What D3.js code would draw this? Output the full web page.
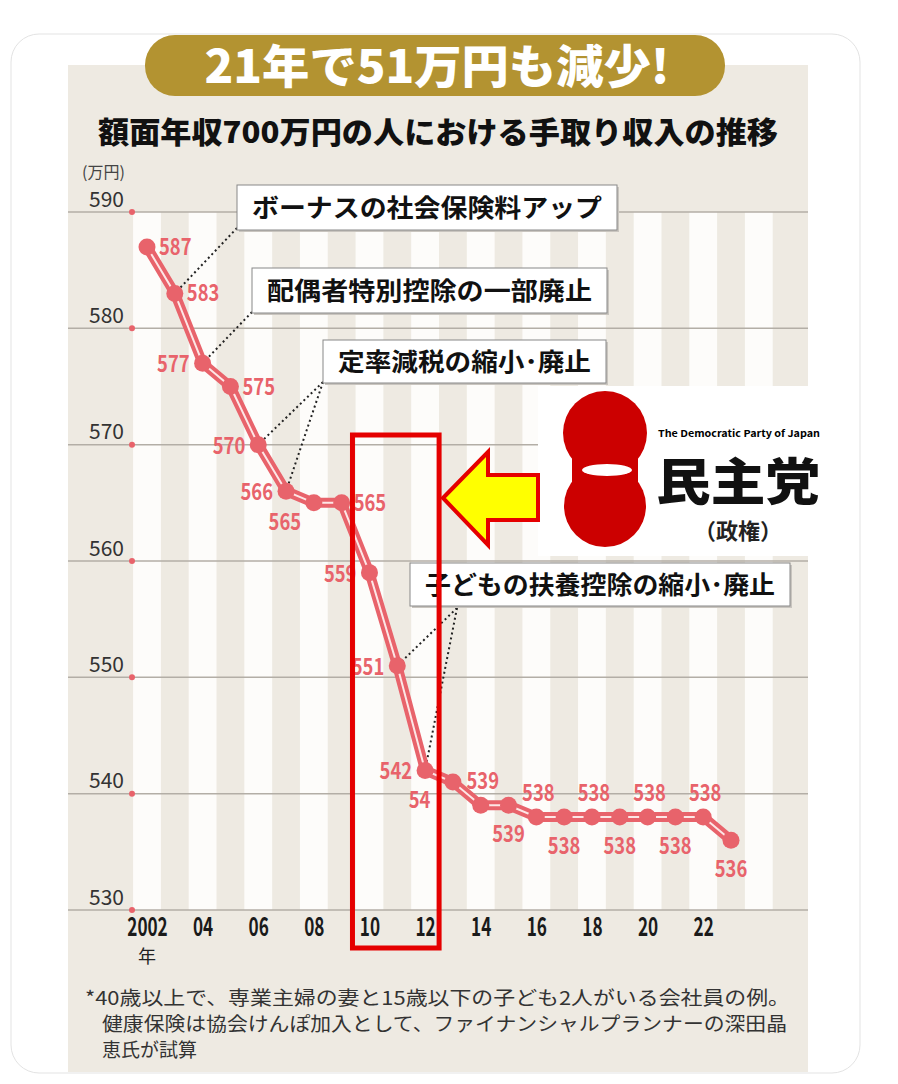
<!DOCTYPE html>
<html>
<head>
<meta charset="utf-8">
<script src="https://cdn.jsdelivr.net/npm/d3@7"></script>
<style>
  body { margin: 0; background: #fff; }
  svg { display: block; }
  text { font-family: "Noto Sans CJK JP", "Noto Sans", sans-serif; }
</style>
</head>
<body>
<div id="chart"></div>
<script>
const years = [2002, 2003, 2004, 2005, 2006, 2007, 2008, 2009, 2010, 2011, 2012,
               2013, 2014, 2015, 2016, 2017, 2018, 2019, 2020, 2021, 2022, 2023];
const income = [587, 583, 577, 575, 570, 566, 565, 565, 559, 551, 542,
                541, 539, 539, 538, 538, 538, 538, 538, 538, 538, 536];
const labelSide = ["right", "right", "left", "right", "left", "left", "belowLeft", "right", "left", "left", "left",
                   "hidden", "above", "below", "above", "below", "above", "below", "above", "below", "above", "below"];
const yTicks = [530, 540, 550, 560, 570, 580, 590];
const xTicks = [2002, 2004, 2006, 2008, 2010, 2012, 2014, 2016, 2018, 2020, 2022];
const xTickLabels = ["2002", "04", "06", "08", "10", "12", "14", "16", "18", "20", "22"];
const notes = [
  { text: "ボーナスの社会保険料アップ", years: [2003] },
  { text: "配偶者特別控除の一部廃止", years: [2004] },
  { text: "定率減税の縮小･廃止", years: [2006, 2007] },
  { text: "子どもの扶養控除の縮小･廃止", years: [2011, 2012] }
];
const highlight = [2010, 2012];
const footnote = [
  "*40歳以上で、専業主婦の妻と15歳以下の子ども2人がいる会社員の例。",
  "健康保険は協会けんぽ加入として、ファイナンシャルプランナーの深田晶",
  "恵氏が試算"
];

const data = years.map((yr, i) => ({ year: yr, value: income[i], side: labelSide[i] }));

const W = 898, H = 1084;
const red = "#e8636b";

const svg = d3.select("#chart").append("svg")
  .attr("width", W)
  .attr("height", H);

// card + panel
svg.append("rect")
  .attr("x", 11).attr("y", 34).attr("width", 849).attr("height", 1039)
  .attr("rx", 28)
  .attr("fill", "#fff").attr("stroke", "#e3e3e3");

svg.append("rect")
  .attr("x", 68).attr("y", 65).attr("width", 740).attr("height", 1007)
  .attr("fill", "#eeeae2");

const x = d3.scaleLinear().domain([2002, 2023]).range([147, 731]);
const y = d3.scaleLinear().domain([530, 590]).range([910, 212]);
const step = x(2003) - x(2002);

// white stripes on even years
svg.append("g").selectAll("rect")
  .data(d3.range(2002, 2025, 2))
  .enter().append("rect")
  .attr("x", d => x(d) - step / 2)
  .attr("y", y(590))
  .attr("width", step)
  .attr("height", y(530) - y(590))
  .attr("fill", "#fdfcfa");

// grid lines
svg.append("g").selectAll("line")
  .data(yTicks)
  .enter().append("line")
  .attr("x1", 68).attr("x2", 808)
  .attr("y1", d => y(d)).attr("y2", d => y(d))
  .attr("stroke", "#b3aea6").attr("stroke-width", 1.5);

svg.append("g").selectAll("circle")
  .data(yTicks)
  .enter().append("circle")
  .attr("cx", 132).attr("cy", d => y(d)).attr("r", 3)
  .attr("fill", red);

// Y axis
const yAxis = svg.append("g")
  .attr("transform", "translate(124,0)")
  .call(d3.axisLeft(y).tickValues(yTicks).tickSize(0).tickPadding(0));
yAxis.select(".domain").remove();
yAxis.selectAll("text")
  .attr("dy", -6)
  .attr("font-family", "'Noto Sans', sans-serif")
  .attr("font-size", 21)
  .attr("fill", "#333");

svg.append("text")
  .attr("x", 82).attr("y", 178)
  .attr("font-size", 16)
  .attr("fill", "#444")
  .text("(万円)");

// X axis
const xAxis = svg.append("g")
  .attr("transform", `translate(0,${y(530)})`)
  .call(d3.axisBottom(x).tickValues(xTicks).tickFormat((d, i) => xTickLabels[i]).tickSize(0).tickPadding(8));
xAxis.select(".domain").remove();
xAxis.selectAll("text")
  .attr("font-family", "'Liberation Sans', sans-serif")
  .attr("font-weight", "bold")
  .attr("font-size", 26)
  .attr("fill", "#1a1a1a")
  .attr("transform", "scale(0.66,1)");

svg.append("text")
  .attr("x", x(2002)).attr("y", 963)
  .attr("text-anchor", "middle")
  .attr("font-size", 18)
  .attr("fill", "#222")
  .text("年");

// leader lines
const boxes = [
  { x: 237, y: 185, w: 380, h: 45, ax: 237, ay: 228 },
  { x: 252, y: 268, w: 355, h: 45, ax: 252, ay: 312 },
  { x: 323, y: 340, w: 283, h: 43, ax: 323, ay: 382 },
  { x: 410, y: 563, w: 380, h: 43, ax: 457, ay: 608 }
];

notes.forEach((n, i) => {
  const b = boxes[i];
  n.years.forEach(yr => {
    const d = data.find(e => e.year === yr);
    svg.append("line")
      .attr("x1", b.ax).attr("y1", b.ay)
      .attr("x2", x(d.year)).attr("y2", y(d.value))
      .attr("stroke", "#222")
      .attr("stroke-width", 2)
      .attr("stroke-dasharray", "2,3");
  });
});

// income line
const line = d3.line().x(d => x(d.year)).y(d => y(d.value));

svg.append("path")
  .datum(data)
  .attr("d", line)
  .attr("fill", "none")
  .attr("stroke", red)
  .attr("stroke-width", 10)
  .attr("stroke-linejoin", "round");

svg.append("path")
  .datum(data)
  .attr("d", line)
  .attr("fill", "none")
  .attr("stroke", "#fde6e6")
  .attr("stroke-width", 2);

svg.append("g").selectAll("circle")
  .data(data)
  .enter().append("circle")
  .attr("cx", d => x(d.year))
  .attr("cy", d => y(d.value))
  .attr("r", 8.5)
  .attr("fill", red);

// value labels
const offsets = {
  right: { dx: 12, dy: 8, anchor: "start" },
  left: { dx: -13, dy: 9, anchor: "end" },
  above: { dx: 2, dy: -16, anchor: "middle" },
  below: { dx: 0, dy: 37, anchor: "middle" },
  belowLeft: { dx: -29, dy: 27, anchor: "middle" },
  hidden: { dx: -28, dy: 26, anchor: "middle" }
};

// the 2013 label is half hidden behind the red frame
svg.append("clipPath").attr("id", "frameClip")
  .append("rect")
  .attr("x", 0).attr("y", 0)
  .attr("width", x(highlight[1]) + 6).attr("height", H);

const labels = svg.append("g");
const hiddenLabels = svg.append("g").attr("clip-path", "url(#frameClip)");

data.forEach(d => {
  const o = offsets[d.side];
  (d.side === "hidden" ? hiddenLabels : labels).append("text")
    .attr("transform", `translate(${x(d.year) + o.dx},${y(d.value) + o.dy}) scale(0.8,1)`)
    .attr("text-anchor", o.anchor)
    .attr("font-family", "'Liberation Sans', sans-serif")
    .attr("font-weight", "bold")
    .attr("font-size", 23)
    .attr("fill", red)
    .text(d.value);
});

// annotation boxes
notes.forEach((n, i) => {
  const b = boxes[i];
  svg.append("rect")
    .attr("x", b.x + 2).attr("y", b.y + 2).attr("width", b.w).attr("height", b.h)
    .attr("fill", "#c9c5bf");
  svg.append("rect")
    .attr("x", b.x).attr("y", b.y).attr("width", b.w).attr("height", b.h)
    .attr("fill", "#fff").attr("stroke", "#888").attr("stroke-width", 1);
  svg.append("text")
    .attr("x", b.x + b.w / 2).attr("y", b.y + b.h / 2 + 9)
    .attr("text-anchor", "middle")
    .attr("font-size", 25)
    .attr("font-weight", "bold")
    .attr("fill", "#111")
    .attr("textLength", b.w - 30)
    .attr("lengthAdjust", "spacingAndGlyphs")
    .text(n.text);
});

// DPJ period frame
svg.append("rect")
  .attr("x", x(highlight[0]) - 17)
  .attr("y", 435)
  .attr("width", x(highlight[1]) - x(highlight[0]) + 31)
  .attr("height", 513)
  .attr("fill", "none")
  .attr("stroke", "#e50000")
  .attr("stroke-width", 5);

// logo area
svg.append("rect")
  .attr("x", 538).attr("y", 386).attr("width", 310).attr("height", 170)
  .attr("fill", "#fff");

svg.append("polygon")
  .attr("points", "443,498 488,452 488,475 538,475 538,520 488,520 488,545")
  .attr("fill", "#ffff00")
  .attr("stroke", "#e50000")
  .attr("stroke-width", 4);

const logo = svg.append("g").attr("fill", "#cc0000");
logo.append("circle").attr("cx", 605).attr("cy", 433).attr("r", 42);
logo.append("circle").attr("cx", 605).attr("cy", 506).attr("r", 41);
logo.append("rect").attr("x", 572).attr("y", 456).attr("width", 66).attr("height", 28);
svg.append("ellipse").attr("cx", 607).attr("cy", 470).attr("rx", 25).attr("ry", 6).attr("fill", "#fff");

svg.append("text")
  .attr("x", 658).attr("y", 437)
  .attr("font-family", "'Liberation Sans', sans-serif")
  .attr("font-size", 9.5)
  .attr("font-weight", "bold")
  .attr("textLength", 162)
  .attr("lengthAdjust", "spacingAndGlyphs")
  .text("The Democratic Party of Japan");

svg.append("text")
  .attr("x", 656).attr("y", 500)
  .attr("font-size", 50)
  .attr("font-weight", 900)
  .attr("fill", "#111")
  .attr("textLength", 164)
  .attr("lengthAdjust", "spacingAndGlyphs")
  .text("民主党");

svg.append("text")
  .attr("x", 738).attr("y", 539)
  .attr("text-anchor", "middle")
  .attr("font-size", 22)
  .attr("font-weight", "bold")
  .attr("fill", "#222")
  .text("（政権）");

// title pill
svg.append("rect")
  .attr("x", 145).attr("y", 35).attr("width", 580).attr("height", 61)
  .attr("rx", 30)
  .attr("fill", "#b39331");

svg.append("text")
  .attr("x", 437).attr("y", 83)
  .attr("text-anchor", "middle")
  .attr("font-size", 46)
  .attr("font-weight", 900)
  .attr("fill", "#fff")
  .attr("textLength", 465)
  .attr("lengthAdjust", "spacingAndGlyphs")
  .text("21年で51万円も減少!");

svg.append("text")
  .attr("x", 98).attr("y", 143)
  .attr("font-size", 30)
  .attr("font-weight", 900)
  .attr("fill", "#111")
  .attr("textLength", 680)
  .attr("lengthAdjust", "spacingAndGlyphs")
  .text("額面年収700万円の人における手取り収入の推移");

// footnote
const footX = [85, 102, 102];
const footLen = [705, 685, null];
footnote.forEach((t, i) => {
  const tx = svg.append("text")
    .attr("x", footX[i]).attr("y", 1005 + i * 26)
    .attr("font-size", 19)
    .attr("fill", "#333")
    .text(t);
  if (footLen[i]) tx.attr("textLength", footLen[i]).attr("lengthAdjust", "spacingAndGlyphs");
});
</script>
</body>
</html>
